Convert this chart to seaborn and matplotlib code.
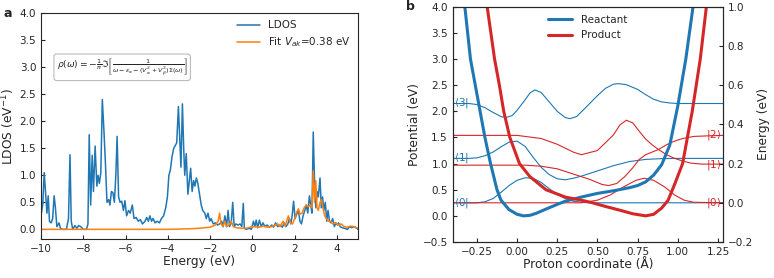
"""
LDOS fit (a) and proton potentials with vibrational states (b)
"""
import numpy as np
import matplotlib.pyplot as plt
import seaborn as sns

sns.set_style("ticks")
plt.rcParams['font.family'] = ['DejaVu Sans']
plt.rcParams['xtick.direction'] = 'in'
plt.rcParams['ytick.direction'] = 'in'
plt.rcParams['xtick.major.size'] = 3
plt.rcParams['ytick.major.size'] = 3
plt.rcParams['font.size'] = 7.5
plt.rcParams['axes.labelsize'] = 8.8

BLUE = '#1f77b4'
ORANGE = '#ff7f0e'
RED = '#d62728'

# ---- panel a: LDOS ----
ldos_x = [-10.0, -9.92, -9.85, -9.78, -9.72, -9.66, -9.60, -9.52, -9.45, -9.38, -9.32, -9.25, -9.15, -9.08,
          -9.00, -8.80, -8.70, -8.63, -8.57, -8.50, -8.40, -8.30, -8.22, -8.12, -8.00, -7.85, -7.78, -7.72,
          -7.65, -7.58, -7.52, -7.44, -7.36, -7.30, -7.24, -7.17, -7.10, -7.02, -6.95, -6.88, -6.80, -6.74,
          -6.67, -6.60, -6.53, -6.46, -6.40, -6.33, -6.26, -6.18, -6.10, -6.03, -5.95, -5.86, -5.78, -5.68,
          -5.60, -5.50, -5.40, -5.30, -5.20, -5.08, -5.00, -4.92, -4.85, -4.77, -4.70, -4.60, -4.50, -4.40,
          -4.30, -4.20, -4.10, -4.02, -3.95, -3.88, -3.80, -3.72, -3.65, -3.58, -3.50, -3.44, -3.38, -3.31,
          -3.25, -3.20, -3.13, -3.05, -2.98, -2.92, -2.85, -2.78, -2.72, -2.65, -2.58, -2.50, -2.42, -2.35,
          -2.25, -2.18, -2.10, -2.02, -1.95, -1.85, -1.75, -1.65, -1.55, -1.45, -1.38, -1.30, -1.22, -1.15,
          -1.08, -1.00, -0.93, -0.86, -0.78, -0.68, -0.58, -0.50, -0.43, -0.38, -0.30, -0.15, -0.05, 0.05,
          0.12, 0.18, 0.25, 0.33, 0.42, 0.50, 0.60, 0.70, 0.80, 0.92, 1.00, 1.10, 1.20, 1.30,
          1.42, 1.50, 1.58, 1.68, 1.75, 1.82, 1.88, 1.95, 2.02, 2.10, 2.18, 2.25, 2.32, 2.40,
          2.48, 2.55, 2.62, 2.70, 2.76, 2.82, 2.88, 2.94, 3.00, 3.06, 3.12, 3.20, 3.26, 3.32,
          3.38, 3.45, 3.52, 3.58, 3.65, 3.72, 3.80, 3.88, 3.95, 4.02, 4.08, 4.15, 4.25, 4.35,
          4.50, 4.60, 4.70, 4.80, 4.90, 5.00]
ldos_y = [0.26, 0.45, 1.05, 0.65, 0.30, 0.62, 0.15, 0.12, 0.20, 0.62, 0.40, 0.05, 0.12, 0.02,
          0.00, 0.00, 0.20, 1.38, 0.15, 0.00, 0.07, 0.02, 0.07, 0.05, 0.00, 0.00, 0.10, 1.75,
          0.45, 1.37, 0.70, 1.54, 0.80, 1.00, 0.85, 1.05, 2.40, 1.80, 1.20, 0.50, 0.55, 0.45,
          0.70, 0.68, 0.50, 1.00, 1.72, 0.60, 0.50, 0.52, 0.35, 0.53, 0.25, 0.35, 0.30, 0.45,
          0.20, 0.22, 0.15, 0.18, 0.10, 0.15, 0.22, 0.15, 0.25, 0.15, 0.20, 0.12, 0.15, 0.12,
          0.20, 0.25, 0.40, 0.60, 1.00, 1.10, 1.35, 1.50, 1.55, 1.60, 2.27, 1.70, 1.15, 2.32,
          1.50, 1.00, 1.40, 0.65, 0.90, 1.13, 0.70, 0.90, 0.80, 0.95, 0.85, 0.65, 0.45, 0.35,
          0.30, 0.20, 0.30, 0.15, 0.20, 0.10, 0.12, 0.08, 0.10, 0.15, 0.05, 0.25, 0.05, 0.35,
          0.05, 0.12, 0.50, 0.05, 0.10, 0.08, 0.10, 0.05, 0.48, 0.02, 0.00, 0.02, 0.00, 0.15,
          0.05, 0.17, 0.03, 0.17, 0.05, 0.12, 0.05, 0.08, 0.04, 0.08, 0.04, 0.12, 0.05, 0.08,
          0.04, 0.12, 0.05, 0.10, 0.20, 0.10, 0.25, 0.52, 0.20, 0.28, 0.35, 0.15, 0.10, 0.25,
          0.35, 0.45, 0.30, 0.62, 0.45, 0.30, 1.80, 0.90, 0.40, 0.70, 0.60, 0.95, 0.40, 0.60,
          0.35, 0.50, 0.15, 0.35, 0.15, 0.12, 0.20, 0.05, 0.12, 0.08, 0.12, 0.05, 0.03, 0.02,
          0.00, 0.05, 0.03, 0.05, 0.03, 0.00]

fit_x = [-10.0, -4.0, -3.0, -2.5, -2.0, -1.75, -1.62, -1.55, -1.48, -1.40, -1.30, -1.22, -1.10, -1.00,
         -0.90, -0.75, -0.50, -0.30, -0.10, 0.10, 0.30, 0.50, 0.70, 0.90, 1.10, 1.20, 1.30, 1.45,
         1.55, 1.70, 1.80, 1.90, 2.00, 2.10, 2.18, 2.25, 2.35, 2.45, 2.55, 2.65, 2.75, 2.82,
         2.88, 2.94, 3.00, 3.06, 3.12, 3.20, 3.27, 3.34, 3.42, 3.50, 3.60, 3.70, 3.80, 3.90,
         4.00, 4.10, 4.20, 4.35, 4.50, 4.65, 4.80, 5.00]
fit_y = [0.00, 0.00, 0.01, 0.02, 0.04, 0.08, 0.15, 0.30, 0.10, 0.05, 0.15, 0.05, 0.08, 0.15,
         0.05, 0.03, 0.02, 0.02, 0.04, 0.05, 0.04, 0.06, 0.04, 0.05, 0.08, 0.10, 0.05, 0.15,
         0.06, 0.25, 0.12, 0.10, 0.20, 0.32, 0.38, 0.28, 0.30, 0.40, 0.45, 0.42, 0.45, 0.40,
         1.08, 0.50, 0.90, 0.40, 0.35, 0.50, 0.55, 0.40, 0.25, 0.20, 0.15, 0.15, 0.10, 0.12,
         0.10, 0.08, 0.10, 0.05, 0.04, 0.06, 0.05, 0.02]

# ---- panel b: potentials ----
react_x = [-0.325, -0.29, -0.26, -0.23, -0.20, -0.165, -0.125, -0.10, -0.05, 0.0, 0.04, 0.08, 0.12,
           0.18, 0.25, 0.30, 0.40, 0.50, 0.60, 0.70, 0.75, 0.80, 0.85, 0.90, 0.95, 1.00, 1.05, 1.095]
react_y = [4.0, 3.0, 2.5, 2.0, 1.5, 1.0, 0.5, 0.3, 0.12, 0.03, 0.0, 0.01, 0.05,
           0.13, 0.22, 0.28, 0.36, 0.43, 0.48, 0.54, 0.58, 0.65, 0.78, 0.98, 1.35, 2.1, 3.0, 4.0]

prod_x = [-0.186, -0.14, -0.11, -0.083, -0.045, 0.015, 0.08, 0.18, 0.30, 0.40, 0.47, 0.55, 0.65,
          0.72, 0.80, 0.85, 0.90, 0.94, 0.98, 1.03, 1.09, 1.14, 1.178]
prod_y = [4.0, 3.0, 2.5, 2.0, 1.5, 1.0, 0.75, 0.5, 0.36, 0.30, 0.25, 0.18, 0.10,
          0.04, 0.0, 0.03, 0.15, 0.30, 0.60, 1.0, 2.0, 3.0, 4.0]

# reactant states (blue)
r0_x = [-0.40, -0.25, -0.20, -0.15, -0.10, -0.05, 0.0, 0.05, 0.10, 0.15, 0.20, 0.25, 0.30, 0.35, 0.40, 0.45, 1.28]
r0_y = [0.25, 0.25, 0.27, 0.33, 0.45, 0.58, 0.68, 0.73, 0.72, 0.64, 0.52, 0.41, 0.33, 0.28, 0.26, 0.25, 0.25]
r1_x = [-0.40, -0.30, -0.25, -0.20, -0.15, -0.10, -0.05, 0.0, 0.05, 0.10, 0.15, 0.20, 0.25, 0.30, 0.35,
        0.40, 0.50, 0.60, 0.70, 0.80, 0.90, 1.00, 1.28]
r1_y = [1.10, 1.10, 1.11, 1.15, 1.22, 1.32, 1.41, 1.43, 1.33, 1.12, 0.93, 0.79, 0.71, 0.69, 0.72,
        0.76, 0.86, 0.96, 1.04, 1.08, 1.095, 1.10, 1.10]
r3_x = [-0.40, -0.30, -0.25, -0.20, -0.15, -0.10, -0.07, -0.03, 0.0, 0.05, 0.08, 0.11, 0.15, 0.20, 0.25,
        0.30, 0.33, 0.37, 0.42, 0.50, 0.55, 0.60, 0.63, 0.68, 0.75, 0.80, 0.85, 0.90, 0.95, 1.00, 1.28]
r3_y = [2.15, 2.15, 2.13, 2.07, 1.98, 1.90, 1.88, 1.92, 2.02, 2.22, 2.35, 2.41, 2.36, 2.18, 2.00,
        1.88, 1.86, 1.90, 2.05, 2.30, 2.44, 2.52, 2.53, 2.51, 2.42, 2.32, 2.23, 2.18, 2.16, 2.15, 2.15]

# product states (red)
p0_x = [-0.40, 0.40, 0.50, 0.58, 0.66, 0.74, 0.79, 0.85, 0.92, 0.98, 1.04, 1.10, 1.28]
p0_y = [0.25, 0.25, 0.30, 0.40, 0.55, 0.68, 0.72, 0.68, 0.55, 0.40, 0.30, 0.26, 0.25]
p1_x = [-0.40, 0.05, 0.15, 0.25, 0.35, 0.45, 0.53, 0.57, 0.62, 0.67, 0.72, 0.76, 0.80, 0.84, 0.88,
        0.93, 0.98, 1.03, 1.10, 1.18, 1.28]
p1_y = [0.97, 0.97, 0.95, 0.90, 0.80, 0.70, 0.60, 0.58, 0.62, 0.75, 0.92, 1.08, 1.17, 1.22, 1.27,
        1.36, 1.43, 1.48, 1.52, 1.53, 1.54]
p2_x = [-0.40, 0.0, 0.05, 0.15, 0.25, 0.35, 0.40, 0.50, 0.60, 0.64, 0.68, 0.72, 0.76, 0.80, 0.84,
        0.88, 0.93, 0.98, 1.03, 1.08, 1.15, 1.28]
p2_y = [1.54, 1.54, 1.52, 1.48, 1.37, 1.22, 1.17, 1.25, 1.55, 1.74, 1.83, 1.78, 1.62, 1.47, 1.36,
        1.27, 1.17, 1.10, 1.05, 1.01, 0.99, 0.99]

left_labels = [r'$\langle 0|$', r'$\langle 1|$', r'$\langle 3|$']
left_levels = [0.25, 1.10, 2.15]
right_labels = [r'$|0\rangle$', r'$|1\rangle$', r'$|2\rangle$']
right_levels = [0.25, 0.97, 1.54]

fig = plt.figure(figsize=(7.74, 2.78), dpi=100)
ax_a = fig.add_axes([0.053, 0.140, 0.4096, 0.813])
ax_b = fig.add_axes([0.585, 0.1295, 0.3488, 0.846])

sns.lineplot(x=ldos_x, y=ldos_y, ax=ax_a, color=BLUE, lw=1.1, label='LDOS',
             estimator=None, sort=False)
sns.lineplot(x=fit_x, y=fit_y, ax=ax_a, color=ORANGE, lw=1.1, label=r'Fit $V_{ak}$=0.38 eV',
             estimator=None, sort=False)
ax_a.set_xlim(-10, 5)
ax_a.set_ylim(-0.18, 4.0)
ax_a.set_xticks(np.arange(-10, 5, 2))
ax_a.set_yticks(np.arange(0, 4.01, 0.5))
ax_a.set_xlabel('Energy (eV)', labelpad=1)
ax_a.set_ylabel(r'LDOS (eV$^{-1}$)', labelpad=2)
ax_a.legend(loc='upper right', frameon=False, handlelength=2.2, borderaxespad=0.3)
ax_a.text(0.256, 0.76,
          r'$\rho(\omega)=-\frac{1}{\pi}\Im\left[\frac{1}{\omega-\epsilon_a-(V_a^2+V_\beta^2)\Sigma(\omega)}\right]$',
          transform=ax_a.transAxes, ha='center', va='center', fontsize=6.6,
          bbox=dict(boxstyle='round,pad=0.3', fc='white', ec='#bbbbbb', lw=0.8))

for xs, ys in [(r0_x, r0_y), (r1_x, r1_y), (r3_x, r3_y)]:
    sns.lineplot(x=xs, y=ys, ax=ax_b, color=BLUE, lw=0.8, estimator=None, sort=False)
for xs, ys in [(p0_x, p0_y), (p1_x, p1_y), (p2_x, p2_y)]:
    sns.lineplot(x=xs, y=ys, ax=ax_b, color=RED, lw=0.8, estimator=None, sort=False)
sns.lineplot(x=react_x, y=react_y, ax=ax_b, color=BLUE, lw=2.2, label='Reactant',
             estimator=None, sort=False)
sns.lineplot(x=prod_x, y=prod_y, ax=ax_b, color=RED, lw=2.2, label='Product',
             estimator=None, sort=False)

for lab, lev in zip(left_labels, left_levels):
    ax_b.text(-0.395, lev, lab, color=BLUE, ha='left', va='center', fontsize=7.5)
for lab, lev in zip(right_labels, right_levels):
    ax_b.text(1.27, lev, lab, color=RED, ha='right', va='center', fontsize=7.5)

ax_b.set_xlim(-0.4, 1.28)
ax_b.set_ylim(-0.5, 4.0)
ax_b.set_xticks(np.arange(-0.25, 1.26, 0.25))
ax_b.set_yticks(np.arange(-0.5, 4.01, 0.5))
ax_b.set_xlabel('Proton coordinate (Å)', labelpad=1)
ax_b.set_ylabel('Potential (eV)', labelpad=1)
ax_b.legend(loc='upper center', frameon=False, handlelength=2.3, borderaxespad=0.4)

ax_b2 = ax_b.twinx()
ax_b2.set_ylim(-0.2, 1.0)
ax_b2.set_yticks(np.arange(-0.2, 1.01, 0.2))
ax_b2.set_ylabel('Energy (eV)', labelpad=3)

fig.text(0.004, 0.94, 'a', fontweight='bold', fontsize=9)
fig.text(0.525, 0.965, 'b', fontweight='bold', fontsize=9)

fig.savefig('out.png', dpi=100)
